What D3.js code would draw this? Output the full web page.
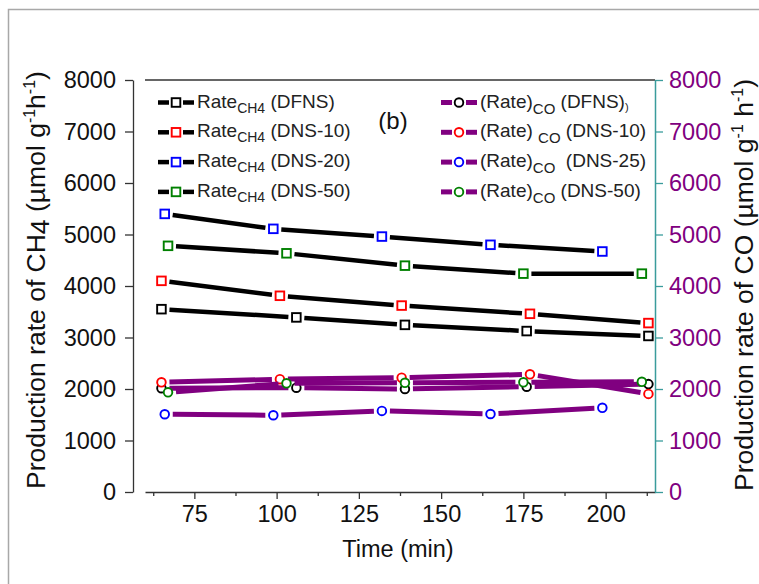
<!DOCTYPE html>
<html>
<head>
<meta charset="utf-8">
<script src="https://cdn.jsdelivr.net/npm/d3@7"></script>
<style>
  body { margin: 0; background: #fff; }
  svg { display: block; }
  text { font-family: "Liberation Sans", Arial, sans-serif; }
</style>
</head>
<body>
<svg id="chart" width="759" height="584"></svg>
<script>
// Sampling times (min) for each catalyst
const timesDFNS  = [65, 106, 139, 176, 213];
const timesDNS10 = [65, 101, 138, 177, 213];
const timesDNS20 = [66, 99, 132, 165, 199];
const timesDNS50 = [67, 103, 139, 175, 211];

// CH4 production rate (µmol g-1 h-1)
const ch4DFNS  = [3550, 3390, 3245, 3125, 3030];
const ch4DNS10 = [4100, 3810, 3620, 3460, 3280];
const ch4DNS20 = [5400, 5110, 4960, 4800, 4670];
const ch4DNS50 = [4780, 4635, 4395, 4240, 4240];

// CO production rate (µmol g-1 h-1)
const coDFNS  = [2015, 2025, 2000, 2045, 2095];
const coDNS10 = [2130, 2190, 2220, 2285, 1905];
const coDNS25 = [1510, 1490, 1575, 1515, 1635];
const coDNS50 = [1935, 2110, 2120, 2130, 2140];

// Axis ticks
const xMajorTicks = [75, 100, 125, 150, 175, 200];
const xMinorTicks = [62.5, 87.5, 112.5, 137.5, 162.5, 187.5, 212.5];
const yTicks = [0, 1000, 2000, 3000, 4000, 5000, 6000, 7000, 8000];

const ch4Series = [
  { name: "DFNS",   t: timesDFNS,  v: ch4DFNS,  color: "#000000" },
  { name: "DNS-10", t: timesDNS10, v: ch4DNS10, color: "#ff0000" },
  { name: "DNS-20", t: timesDNS20, v: ch4DNS20, color: "#0000ff" },
  { name: "DNS-50", t: timesDNS50, v: ch4DNS50, color: "#008000" }
];
const coSeries = [
  { name: "DFNS",   t: timesDFNS,  v: coDFNS,  color: "#000000" },
  { name: "DNS-10", t: timesDNS10, v: coDNS10, color: "#ff0000" },
  { name: "DNS-25", t: timesDNS20, v: coDNS25, color: "#0000ff" },
  { name: "DNS-50", t: timesDNS50, v: coDNS50, color: "#008000" }
];

const PURPLE = "#800080";
const TEAL = "#3a9c9c";
const AXIS = "#333333";
const FONT = "Liberation Sans, Arial, sans-serif";

const svg = d3.select("#chart");

// outer figure border
svg.append("path")
  .attr("d", "M8.5,584 V9.5 H759")
  .attr("fill", "none").attr("stroke", "#a8a8a8").attr("stroke-width", 1.5);

const x = d3.scaleLinear().domain([60, 215]).range([145, 655]);
const y = d3.scaleLinear().domain([0, 8000]).range([492, 80]);

// top frame line
svg.append("line")
  .attr("x1", x(60)).attr("x2", x(215)).attr("y1", y(8000)).attr("y2", y(8000))
  .attr("stroke", AXIS).attr("stroke-width", 1.3);

// bottom axis: major ticks with labels
const gx = svg.append("g").attr("transform", `translate(0,${y(0)})`)
  .call(d3.axisBottom(x).tickValues(xMajorTicks).tickFormat(d3.format("d"))
    .tickSize(7).tickSizeOuter(0).tickPadding(6));
gx.select(".domain").attr("stroke", AXIS).attr("stroke-width", 1.3);
gx.selectAll(".tick line").attr("stroke", AXIS).attr("stroke-width", 1.3);
gx.selectAll(".tick text").attr("font-size", 23.5).attr("fill", "#111").attr("font-family", FONT);
// minor ticks
const gxm = svg.append("g").attr("transform", `translate(0,${y(0)})`)
  .call(d3.axisBottom(x).tickValues(xMinorTicks).tickSize(4).tickFormat(""));
gxm.select(".domain").remove();
gxm.selectAll(".tick line").attr("stroke", AXIS).attr("stroke-width", 1.3);

// left axis, set off from the plot area
const gy = svg.append("g").attr("transform", "translate(133,0)")
  .call(d3.axisLeft(y).tickValues(yTicks).tickFormat(d3.format("d"))
    .tickSize(8).tickSizeOuter(0).tickPadding(9));
gy.select(".domain").attr("stroke", AXIS).attr("stroke-width", 1.3);
gy.selectAll(".tick line").attr("stroke", AXIS).attr("stroke-width", 1.3);
gy.selectAll(".tick text").attr("font-size", 23.5).attr("fill", "#111").attr("font-family", FONT);

// right axis (CO)
const gy2 = svg.append("g").attr("transform", `translate(${x(215)},0)`)
  .call(d3.axisRight(y).tickValues(yTicks).tickFormat(d3.format("d"))
    .tickSize(8).tickSizeOuter(0).tickPadding(6));
gy2.select(".domain").attr("stroke", TEAL).attr("stroke-width", 1.5);
gy2.selectAll(".tick line").attr("stroke", TEAL).attr("stroke-width", 1.3);
gy2.selectAll(".tick text").attr("font-size", 23.5).attr("fill", PURPLE).attr("font-family", FONT);

// axis titles
svg.append("text").attr("x", (x(60) + x(215)) / 2 - 2).attr("y", 557)
  .attr("text-anchor", "middle").attr("font-size", 23.5).attr("fill", "#111")
  .text("Time (min)");

function titleText(sel, parts) {
  parts.forEach(p => {
    sel.append("tspan").attr("dy", p.dy || 0).attr("font-size", p.fs || null).text(p.t);
  });
}
const tl = svg.append("text")
  .attr("transform", "translate(45,280) rotate(-90)")
  .attr("text-anchor", "middle").attr("font-size", 26.5).attr("fill", "#111");
titleText(tl, [
  { t: "Production rate of CH" },
  { t: "4", dy: 4 },
  { t: " (\u00b5mol g", dy: -4 },
  { t: "-1", dy: -10, fs: 16 },
  { t: "h", dy: 10 },
  { t: "-1", dy: -10, fs: 16 },
  { t: ")", dy: 10 }
]);
const tr = svg.append("text")
  .attr("transform", "translate(753,285) rotate(-90)")
  .attr("text-anchor", "middle").attr("font-size", 26.5).attr("fill", "#111");
titleText(tr, [
  { t: "Production rate of CO (\u00b5mol g" },
  { t: "-1", dy: -10, fs: 16 },
  { t: " h", dy: 10 },
  { t: "-1", dy: -10, fs: 16 },
  { t: ")", dy: 10 }
]);

// panel label
svg.append("text").attr("x", 393).attr("y", 129).attr("text-anchor", "middle")
  .attr("font-size", 24).attr("fill", "#111").text("(b)");

// connecting segments stop short of each symbol
const GAP = 8;
function gappedSegments(s) {
  const pts = s.t.map((t, i) => [x(t), y(s.v[i])]);
  const segs = [];
  for (let i = 0; i < pts.length - 1; i++) {
    const [x1, y1] = pts[i], [x2, y2] = pts[i + 1];
    const len = Math.hypot(x2 - x1, y2 - y1);
    const ux = (x2 - x1) / len, uy = (y2 - y1) / len;
    segs.push({ x1: x1 + ux * GAP, y1: y1 + uy * GAP, x2: x2 - ux * GAP, y2: y2 - uy * GAP });
  }
  return segs;
}

const plot = svg.append("g");

// CH4 series: black lines, open squares
ch4Series.forEach(s => {
  const g = plot.append("g");
  g.selectAll("line").data(gappedSegments(s)).join("line")
    .attr("x1", d => d.x1).attr("y1", d => d.y1).attr("x2", d => d.x2).attr("y2", d => d.y2)
    .attr("stroke", "#000").attr("stroke-width", 4.5);
  g.selectAll("rect").data(s.t.map((t, i) => ({ t, v: s.v[i] }))).join("rect")
    .attr("x", d => x(d.t) - 4.3).attr("y", d => y(d.v) - 4.3)
    .attr("width", 8.6).attr("height", 8.6)
    .attr("fill", "#fff").attr("stroke", s.color).attr("stroke-width", 1.9);
});

// CO series: purple lines, open circles
coSeries.forEach(s => {
  const g = plot.append("g");
  g.selectAll("line").data(gappedSegments(s)).join("line")
    .attr("x1", d => d.x1).attr("y1", d => d.y1).attr("x2", d => d.x2).attr("y2", d => d.y2)
    .attr("stroke", PURPLE).attr("stroke-width", 5);
  g.selectAll("circle").data(s.t.map((t, i) => ({ t, v: s.v[i] }))).join("circle")
    .attr("cx", d => x(d.t)).attr("cy", d => y(d.v)).attr("r", 4.3)
    .attr("fill", "#fff").attr("stroke", s.color).attr("stroke-width", 1.9);
});

// legends
const rowY = i => 102.5 + i * 29.8;
ch4Series.forEach((s, i) => {
  const ry = rowY(i);
  const g = svg.append("g");
  g.append("line").attr("x1", 158).attr("x2", 169).attr("y1", ry).attr("y2", ry)
    .attr("stroke", "#000").attr("stroke-width", 4.5);
  g.append("line").attr("x1", 183).attr("x2", 194).attr("y1", ry).attr("y2", ry)
    .attr("stroke", "#000").attr("stroke-width", 4.5);
  g.append("rect").attr("x", 176 - 4.3).attr("y", ry - 4.3).attr("width", 8.6).attr("height", 8.6)
    .attr("fill", "#fff").attr("stroke", s.color).attr("stroke-width", 1.9);
  const t = g.append("text").attr("x", 197).attr("y", ry + 5).attr("font-size", 19).attr("fill", "#222");
  t.append("tspan").text("Rate");
  t.append("tspan").attr("dy", 5).attr("font-size", 14).text("CH4");
  t.append("tspan").attr("dy", -5).text(" (" + s.name + ")");
});

const coLabels = [
  [{ t: "(Rate)" }, { t: "CO", sub: true }, { t: " (DFNS)" }, { t: ")", tiny: true }],
  [{ t: "(Rate) " }, { t: "CO", sub: true }, { t: " (DNS-10)" }],
  [{ t: "(Rate)" }, { t: "CO", sub: true }, { t: "\u00a0 (DNS-25)" }],
  [{ t: "(Rate)" }, { t: "CO", sub: true }, { t: " (DNS-50)" }]
];
coSeries.forEach((s, i) => {
  const ry = rowY(i);
  const g = svg.append("g");
  g.append("line").attr("x1", 441).attr("x2", 452).attr("y1", ry).attr("y2", ry)
    .attr("stroke", PURPLE).attr("stroke-width", 5);
  g.append("line").attr("x1", 466).attr("x2", 477).attr("y1", ry).attr("y2", ry)
    .attr("stroke", PURPLE).attr("stroke-width", 5);
  g.append("circle").attr("cx", 459).attr("cy", ry).attr("r", 4.3)
    .attr("fill", "#fff").attr("stroke", s.color).attr("stroke-width", 1.9);
  const t = g.append("text").attr("x", 480).attr("y", ry + 5).attr("font-size", 19).attr("fill", "#222");
  let shift = 0;
  coLabels[i].forEach(p => {
    const target = p.sub ? 6 : p.tiny ? 3 : 0;
    const sp = t.append("tspan").attr("dy", target - shift).text(p.t);
    if (p.sub) sp.attr("font-size", 15);
    if (p.tiny) sp.attr("font-size", 11);
    shift = target;
  });
});
</script>
</body>
</html>
